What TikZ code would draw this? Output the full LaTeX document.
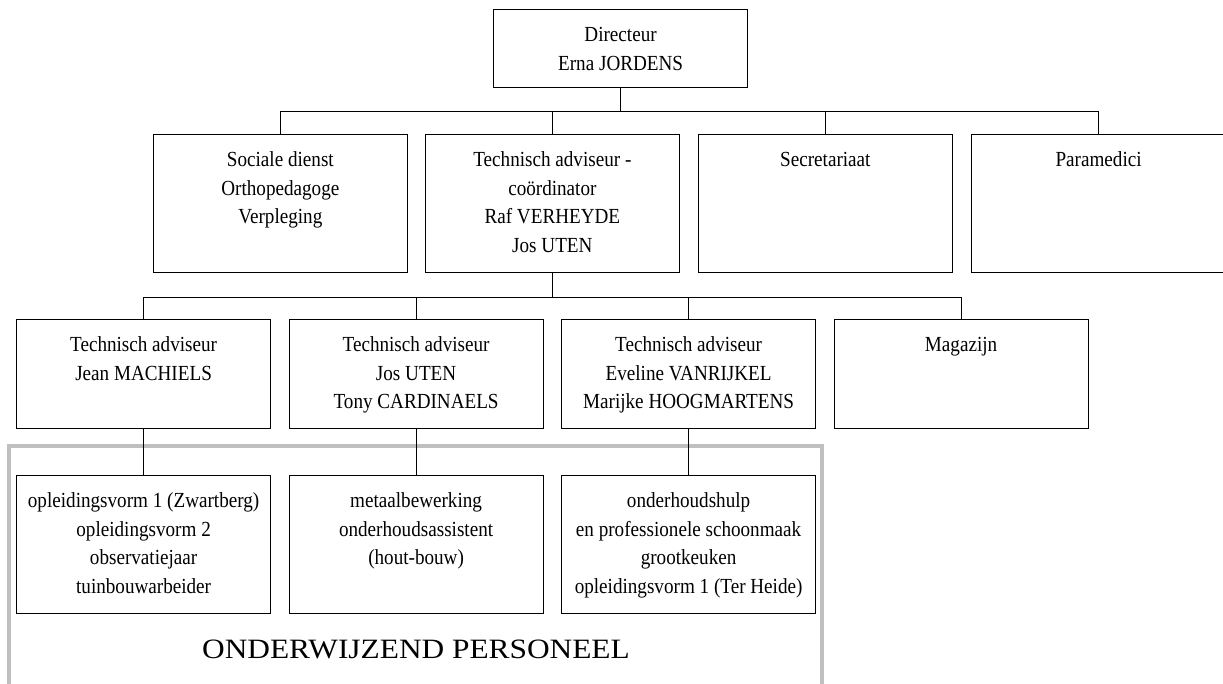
\documentclass[tikz,border=0pt]{standalone}
\usepackage{fontspec}
\setmainfont{Liberation Serif}[FakeStretch=0.89]
\newfontfamily\bigfont{Liberation Serif}[FakeStretch=1.12]
\newcommand{\bxt}[3]{\parbox[c][#2pt][t]{#1pt}{\centering\rule{0pt}{32pt}#3}}
\tikzset{
  orgbox/.style={draw, line width=1.2pt, inner sep=0pt, anchor=north west,
    font=\fontsize{21.5}{28.5}\selectfont},
  link/.style={line width=1.2pt},
  frame/.style={line width=4.5pt, color=black!25},
}
\begin{document}
\begin{tikzpicture}[x=1pt,y=-1pt]
\useasboundingbox (0,0) rectangle (1223,683);
% gray frame
\draw[frame] (9,700) -- (9,446) -- (822,446) -- (822,700);
% top
\node[orgbox] (D) at (493,9) {\bxt{254}{78}{Directeur\\Erna JORDENS}};
% row 2
\node[orgbox] (S) at (153,134) {\bxt{253.5}{138}{Sociale dienst\\Orthopedagoge\\Verpleging}};
\node[orgbox] (T) at (425,134) {\bxt{253.5}{138}{Technisch adviseur -\\co\"ordinator\\Raf VERHEYDE\\Jos UTEN}};
\node[orgbox] (Sec) at (698,134) {\bxt{253.5}{138}{Secretariaat}};
\node[orgbox] (P) at (971,134) {\bxt{254}{138}{Paramedici}};
% row 3
\node[orgbox] (A) at (16,319) {\bxt{254}{109}{Technisch adviseur\\Jean MACHIELS}};
\node[orgbox] (B) at (288.5,319) {\bxt{254}{109}{Technisch adviseur\\Jos UTEN\\Tony CARDINAELS}};
\node[orgbox] (C) at (561,319) {\bxt{254}{109}{Technisch adviseur\\Eveline VANRIJKEL\\Marijke HOOGMARTENS}};
\node[orgbox] (M) at (833.5,319) {\bxt{254}{109}{Magazijn}};
% row 4
\node[orgbox] (A4) at (16,475) {\bxt{254}{138}{opleidingsvorm 1 (Zwartberg)\\opleidingsvorm 2\\observatiejaar\\tuinbouwarbeider}};
\node[orgbox] (B4) at (288.5,475) {\bxt{254}{138}{metaalbewerking\\onderhoudsassistent\\(hout-bouw)}};
\node[orgbox] (C4) at (561,475) {\bxt{254}{138}{onderhoudshulp\\en professionele schoonmaak\\grootkeuken\\opleidingsvorm 1 (Ter Heide)}};
% label
\node[anchor=base, inner sep=0pt, font=\bigfont\fontsize{28}{34}\selectfont] (L) at (416,658) {ONDERWIJZEND PERSONEEL};
% connectors
\path (D.south) ++(0,23) coordinate (h1);
\path (T.south) ++(0,24) coordinate (h2);
\draw[link] (D.south) -- (h1);
\draw[link] (S.north) -- (S.north |- h1) -- (P.north |- h1) -- (P.north);
\draw[link] (T.north) -- (T.north |- h1);
\draw[link] (Sec.north) -- (Sec.north |- h1);
\draw[link] (T.south) -- (h2);
\draw[link] (A.north) -- (A.north |- h2) -- (M.north |- h2) -- (M.north);
\draw[link] (B.north) -- (B.north |- h2);
\draw[link] (C.north) -- (C.north |- h2);
\draw[link] (A.south) -- (A4.north);
\draw[link] (B.south) -- (B4.north);
\draw[link] (C.south) -- (C4.north);
\end{tikzpicture}
\end{document}
